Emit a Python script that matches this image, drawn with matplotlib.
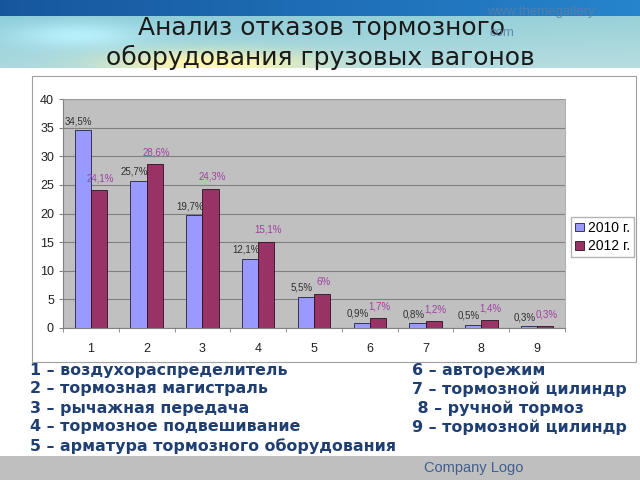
import numpy as np
import matplotlib
matplotlib.use("Agg")
import matplotlib.pyplot as plt
from matplotlib.patches import Rectangle

categories = ["1", "2", "3", "4", "5", "6", "7", "8", "9"]
values_2010 = [34.5, 25.7, 19.7, 12.1, 5.5, 0.9, 0.8, 0.5, 0.3]
values_2012 = [24.1, 28.6, 24.3, 15.1, 6.0, 1.7, 1.2, 1.4, 0.3]
labels_2010 = ["34,5%", "25,7%", "19,7%", "12,1%", "5,5%", "0,9%", "0,8%", "0,5%", "0,3%"]
labels_2012 = ["24,1%", "28,6%", "24,3%", "15,1%", "6%", "1,7%", "1,2%", "1,4%", "0,3%"]
series_names = ["2010 г.", "2012 г."]
yticks = [0, 5, 10, 15, 20, 25, 30, 35, 40]

title_lines = ["Анализ отказов тормозного", "оборудования грузовых вагонов"]
left_list = ["1 – воздухораспределитель", "2 – тормозная магистраль", "3 – рычажная передача",
             "4 – тормозное подвешивание", "5 – арматура тормозного оборудования"]
right_list = ["6 – авторежим", "7 – тормозной цилиндр", " 8 – ручной тормоз", "9 – тормозной цилиндр"]

W, H = 640, 480
fig = plt.figure(figsize=(6.4, 4.8), dpi=100)

# background image
bg = np.ones((H, W, 3))
xs = np.linspace(0, 1, W)
top = np.stack([0.09 + 0.06 * xs, 0.34 + 0.18 * xs, 0.62 + 0.18 * xs], axis=1)
bg[0:16, :, :] = top[None, :, :]
for y in range(16, 68):
    t = (y - 16) / 52.0
    base = np.stack([0.55 + 0.12 * t + 0.05 * xs, 0.80 + 0.05 * t + 0.02 * xs,
                     0.85 + 0.03 * t + 0 * xs], axis=1)
    d = np.exp(-(((xs - 0.33) / 0.16) ** 2) - ((t - 0.9) / 0.25) ** 2)
    base[:, 0] += 0.35 * d
    base[:, 1] += 0.12 * d
    base[:, 2] -= 0.2 * d
    d2 = np.exp(-(((xs - 0.12) / 0.1) ** 2) - ((t - 0.35) / 0.25) ** 2)
    base += 0.12 * d2[:, None]
    bg[y, :, :] = np.clip(base, 0, 1)
bg[456:, :, :] = 0.75
bgax = fig.add_axes([0, 0, 1, 1])
bgax.imshow(bg, extent=[0, W, H, 0], aspect="auto", interpolation="bilinear")
bgax.set_xlim(0, W)
bgax.set_ylim(H, 0)
bgax.axis("off")

bgax.add_patch(Rectangle((32, 76), 604, 286, facecolor="white", edgecolor="#A0A0A0", lw=0.8))

bgax.text(321, 28, title_lines[0], ha="center", va="center", fontsize=18, color="#1A1A1A",
          family="DejaVu Sans")
bgax.text(320, 57, title_lines[1], ha="center", va="center", fontsize=18, color="#1A1A1A",
          family="DejaVu Sans")
bgax.text(487, 12, "www.themegallery.", ha="left", va="center", fontsize=9.5, color="#5A7FA8",
          family="Liberation Sans", alpha=0.85)
bgax.text(490, 33, "com", ha="left", va="center", fontsize=9.5, color="#5A7FA8",
          family="Liberation Sans", alpha=0.85)

for i, s in enumerate(left_list):
    bgax.text(30, 370 + 19 * i, s, ha="left", va="center", fontsize=11.4, fontweight="bold",
              color="#1F3F73", family="DejaVu Sans")
for i, s in enumerate(right_list):
    bgax.text(412, 370 + 19 * i, s, ha="left", va="center", fontsize=11.4, fontweight="bold",
              color="#1F3F73", family="DejaVu Sans")
bgax.text(424, 468, "Company Logo", ha="left", va="center", fontsize=10.5, color="#3F5F8F",
          family="Liberation Sans")

ax = fig.add_axes([63 / W, 1 - 328 / H, (565 - 63) / W, (328 - 99) / H])
ax.set_facecolor("#C0C0C0")
x = np.arange(len(categories))
bw = 0.29
b1 = ax.bar(x - bw / 2, values_2010, bw, color="#9999FF", edgecolor="#202040", lw=0.6,
            label=series_names[0], zorder=3)
b2 = ax.bar(x + bw / 2, values_2012, bw, color="#993366", edgecolor="#301020", lw=0.6,
            label=series_names[1], zorder=3)
for xi, v, lab in zip(x, values_2010, labels_2010):
    ax.annotate(lab, (xi - bw / 2, v), xytext=(-3, 3), textcoords="offset points",
                ha="center", va="bottom", fontsize=7, color="#303030", family="Liberation Sans",
                zorder=4)
for xi, v, lab in zip(x, values_2012, labels_2012):
    ax.annotate(lab, (xi + bw / 2, v), xytext=(1, 5), textcoords="offset points",
                ha="center", va="bottom", fontsize=7, color="#A040A0", family="Liberation Sans",
                zorder=4)
ax.set_xlim(-0.5, len(categories) - 0.5)
ax.set_ylim(0, 40)
ax.set_yticks(yticks)
ax.yaxis.grid(True, color="#808080", lw=0.8, zorder=1)
ax.set_xticks(x)
ax.set_xticklabels(categories)
ax.set_xticks(np.arange(-0.5, len(categories), 1), minor=True)
ax.tick_params(axis="x", which="major", length=0, pad=11, labelsize=9, labelcolor="#202020")
ax.tick_params(axis="x", which="minor", length=3, direction="out", color="#808080")
ax.tick_params(axis="y", length=3, color="#808080", labelsize=9, labelcolor="#202020")
for lbl in ax.get_xticklabels() + ax.get_yticklabels():
    lbl.set_family("Liberation Sans")
for side in ["top", "right"]:
    ax.spines[side].set_color("#A0A0A0")
    ax.spines[side].set_linewidth(0.6)
ax.spines["left"].set_color("#808080")
ax.spines["bottom"].set_color("#808080")

leg = fig.legend(handles=[b1, b2], labels=series_names, loc="center left",
                 bbox_to_anchor=(571 / W, 1 - 237 / H), fontsize=10, frameon=True,
                 fancybox=False, edgecolor="#A0A0A0", handlelength=0.6, handleheight=0.6,
                 handletextpad=0.3, borderpad=0.3, labelspacing=0.3, borderaxespad=0)
for t in leg.get_texts():
    t.set_family("Liberation Sans")

fig.savefig("out.png", dpi=100)
